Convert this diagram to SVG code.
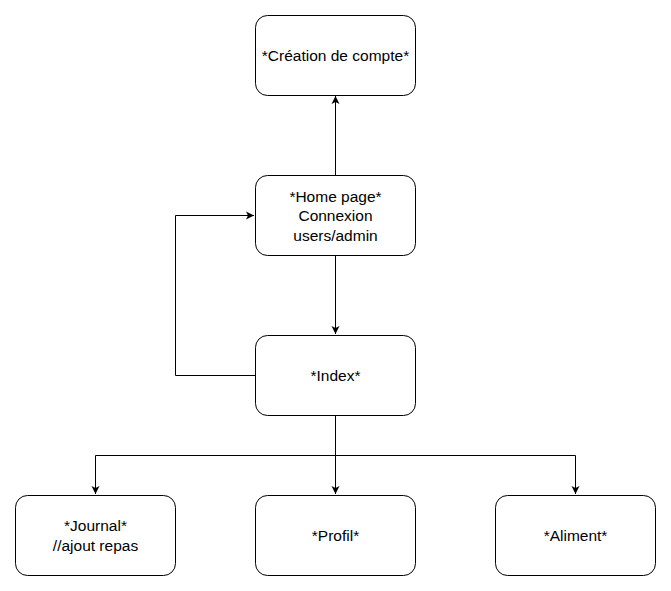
<svg xmlns="http://www.w3.org/2000/svg" width="671" height="591" viewBox="0 0 671 591">
<style>
.n{fill:#fff;stroke:#000;stroke-width:1}
.t{font-family:"Liberation Sans",Arial,sans-serif;font-size:15.5px;fill:#000;text-anchor:middle}
.e{fill:none;stroke:#000;stroke-width:1}
</style>
<defs>
<marker id="a" markerWidth="10" markerHeight="10" refX="8" refY="4" orient="auto" markerUnits="userSpaceOnUse" viewBox="0 0 10 8">
<path d="M0,0 L8,4 L0,8 L2,4 Z" fill="#000"/>
</marker>
</defs>
<rect width="671" height="591" fill="#fff"/>
<g id="connectors">
<path class="e" d="M335.5,175 L335.5,96" marker-end="url(#a)"/>
<path class="e" d="M335.5,255 L335.5,334" marker-end="url(#a)"/>
<path class="e" d="M255,375.5 L175.5,375.5 L175.5,215.5 L254,215.5" marker-end="url(#a)"/>
<path class="e" d="M335.5,415 L335.5,494" marker-end="url(#a)"/>
<path class="e" d="M335.5,455.5 L95.5,455.5 L95.5,494" marker-end="url(#a)"/>
<path class="e" d="M335.5,455.5 L575.5,455.5 L575.5,494" marker-end="url(#a)"/>
</g>
<g id="creation">
<rect class="n" x="255.5" y="15.5" width="160" height="80" rx="12"/>
<text class="t" x="335.5" y="61">*Création de compte*</text>
</g>
<g id="home">
<rect class="n" x="255.5" y="175.5" width="160" height="80" rx="12"/>
<text class="t" x="335.5" y="201.5">*Home page*</text>
<text class="t" x="335.5" y="221">Connexion</text>
<text class="t" x="335.5" y="240.5">users/admin</text>
</g>
<g id="index">
<rect class="n" x="255.5" y="335.5" width="160" height="80" rx="12"/>
<text class="t" x="335.5" y="381">*Index*</text>
</g>
<g id="journal">
<rect class="n" x="15.5" y="495.5" width="160" height="80" rx="12"/>
<text class="t" x="95.5" y="531">*Journal*</text>
<text class="t" x="95.5" y="550.5">//ajout repas</text>
</g>
<g id="profil">
<rect class="n" x="255.5" y="495.5" width="160" height="80" rx="12"/>
<text class="t" x="335.5" y="541">*Profil*</text>
</g>
<g id="aliment">
<rect class="n" x="495.5" y="495.5" width="160" height="80" rx="12"/>
<text class="t" x="575.5" y="541">*Aliment*</text>
</g>
</svg>
